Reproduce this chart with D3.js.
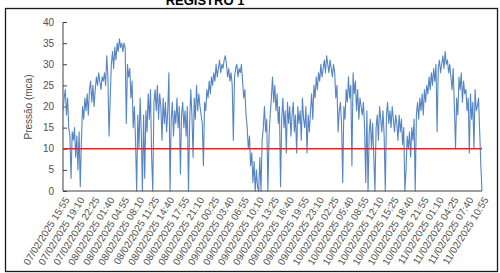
<!DOCTYPE html>
<html>
<head>
<meta charset="utf-8">
<script src="https://cdn.jsdelivr.net/npm/d3@7"></script>
<style>
  body { margin: 0; background: #fff; }
  svg { display: block; font-family: "Liberation Sans", Arial, sans-serif; }
</style>
</head>
<body>
<svg width="500" height="273"></svg>
<script>
// tick labels on the category axis (one every 13 samples)
let tickLabels = [
    "07/02/2025 15:55", "07/02/2025 19:10", "07/02/2025 22:25",
    "08/02/2025 01:40", "08/02/2025 04:55", "08/02/2025 08:10", "08/02/2025 11:25",
    "08/02/2025 14:40", "08/02/2025 17:55", "08/02/2025 21:10",
    "09/02/2025 00:25", "09/02/2025 03:40", "09/02/2025 06:55", "09/02/2025 10:10",
    "09/02/2025 13:25", "09/02/2025 16:40", "09/02/2025 19:55", "09/02/2025 23:10",
    "10/02/2025 02:25", "10/02/2025 05:40", "10/02/2025 08:55", "10/02/2025 12:10",
    "10/02/2025 15:25", "10/02/2025 18:40", "10/02/2025 21:55",
    "11/02/2025 01:10", "11/02/2025 04:25", "11/02/2025 07:40", "11/02/2025 10:55"
];
let labelStep = 13;

// pressure readings (mca), one every 15 min
let pressure = [
    19, 22, 24, 18, 22, 15, 13, 3, 14, 12,
    15, 8, 13, 5, 14, 1, 12, 20, 17, 22,
    19, 23, 18, 24, 26, 21, 25, 20, 24, 27,
    25, 28, 26, 24, 27, 26, 28, 25, 32, 27,
    13, 22, 30, 33, 29, 34, 31, 35, 33, 36,
    34, 35, 33, 35, 34, 16, 30, 27, 29, 22,
    26, 15, 20, 12, 0, 18, 10, 22, 14, 0,
    18, 3, 19, 14, 23, 17, 24, 8, 0, 21,
    24, 19, 25, 17, 23, 20, 12, 22, 16, 21,
    14, 19, 28, 0, 17, 21, 13, 19, 16, 22,
    15, 20, 4, 18, 21, 15, 19, 13, 20, 0,
    16, 24, 18, 8, 22, 17, 25, 19, 23, 20,
    18, 16, 6, 21, 19, 24, 22, 26, 23, 27,
    25, 28, 26, 30, 27, 29, 31, 28, 30, 29,
    31, 32, 30, 27, 29, 26, 28, 25, 12, 27,
    29, 30, 27, 29, 28, 30, 26, 22, 24, 18,
    15, 10, 13, 6, 9, 2, 7, 0, 5, 1,
    0, 8, 0, 12, 15, 20, 14, 17, 0, 13,
    18, 22, 27, 21, 25, 19, 23, 16, 20, 1,
    17, 22, 15, 19, 9, 21, 16, 20, 13, 18,
    21, 14, 18, 9, 20, 16, 19, 12, 22, 17,
    15, 20, 9, 18, 14, 19, 23, 17, 25, 22,
    27, 24, 28, 26, 30, 27, 29, 31, 28, 32,
    30, 28, 31, 29, 27, 30, 28, 22, 25, 14,
    19, 21, 16, 2, 20, 17, 24, 21, 27, 22,
    25, 6, 28, 23, 26, 19, 24, 17, 22, 20,
    18, 21, 15, 2, 19, 0, 14, 17, 10, 16,
    8, 0, 15, 18, 12, 20, 17, 14, 19, 13,
    0, 18, 21, 16, 19, 15, 20, 17, 14, 18,
    16, 12, 18, 14, 17, 11, 15, 0, 5, 13,
    10, 14, 8, 15, 12, 17, 0, 18, 21, 17,
    22, 19, 23, 18, 24, 21, 25, 23, 27, 24,
    28, 25, 29, 26, 30, 14, 29, 31, 28, 30,
    32, 29, 33, 30, 31, 28, 30, 27, 24, 29,
    20, 10, 22, 18, 27, 24, 28, 21, 26, 23,
    24, 19, 22, 9, 23, 17, 21, 10, 24, 19,
    20, 22, 14, 6, 0
];

let yTicks = [0, 5, 10, 15, 20, 25, 30, 35, 40];
let limit = 10;

let svg = d3.select("svg");

let x = d3.scaleLinear().domain([0, pressure.length - 1]).range([63, 482]);
let y = d3.scaleLinear().domain([0, 40]).range([191, 22]);

// outer frame
svg.append("rect")
    .attr("x", 5.5).attr("y", 8.5)
    .attr("width", 492).attr("height", 263)
    .style("fill", "none")
    .style("stroke", "#1a1a1a")
    .style("stroke-width", 1.3);

// title (only the lower part shows in the crop)
svg.append("text")
    .attr("x", 205).attr("y", 5)
    .attr("text-anchor", "middle")
    .style("font-size", "13px")
    .style("font-weight", "bold")
    .text("REGISTRO 1");

// y axis
let yAxis = svg.append("g")
    .attr("transform", "translate(63,0)")
    .call(d3.axisRight(y).tickValues(yTicks).tickSize(4).tickFormat(""));
yAxis.select(".domain").attr("d", `M0,${y(40)}V${y(0)}`).style("stroke", "#404040");
yAxis.selectAll(".tick line").style("stroke", "#404040");

svg.append("g").selectAll("text")
    .data(yTicks)
    .join("text")
    .attr("x", 54)
    .attr("y", d => y(d))
    .attr("dy", "0.35em")
    .attr("text-anchor", "end")
    .style("font-size", "10px")
    .style("fill", "#505050")
    .text(d => d);

svg.append("text")
    .attr("transform", "translate(32,107) rotate(-90)")
    .attr("text-anchor", "middle")
    .style("font-size", "10px")
    .style("fill", "#505050")
    .text("Pressão (mca)");

// data line
let line = d3.line()
    .x((d, i) => x(i))
    .y(d => y(d));

svg.append("path")
    .datum(pressure)
    .attr("d", line)
    .style("fill", "none")
    .style("stroke", "#5585c4")
    .style("stroke-width", 1.1)
    .style("stroke-linejoin", "round");

// reference line at 10 mca
svg.append("line")
    .attr("x1", x(0)).attr("x2", x(pressure.length - 1))
    .attr("y1", y(limit)).attr("y2", y(limit))
    .style("stroke", "#ff1a1a")
    .style("stroke-width", 1.5);

// x axis baseline
svg.append("line")
    .attr("x1", 63).attr("x2", 482)
    .attr("y1", y(0)).attr("y2", y(0))
    .style("stroke", "#404040")
    .style("stroke-width", 1.2);

// rotated category labels
svg.append("g").selectAll("text")
    .data(tickLabels)
    .join("text")
    .attr("transform", (d, i) => `translate(${x(i * labelStep) + 4},198) rotate(-58)`)
    .attr("text-anchor", "end")
    .attr("dy", "0.35em")
    .style("font-size", "10px")
    .style("fill", "#505050")
    .text(d => d);
</script>
</body>
</html>
